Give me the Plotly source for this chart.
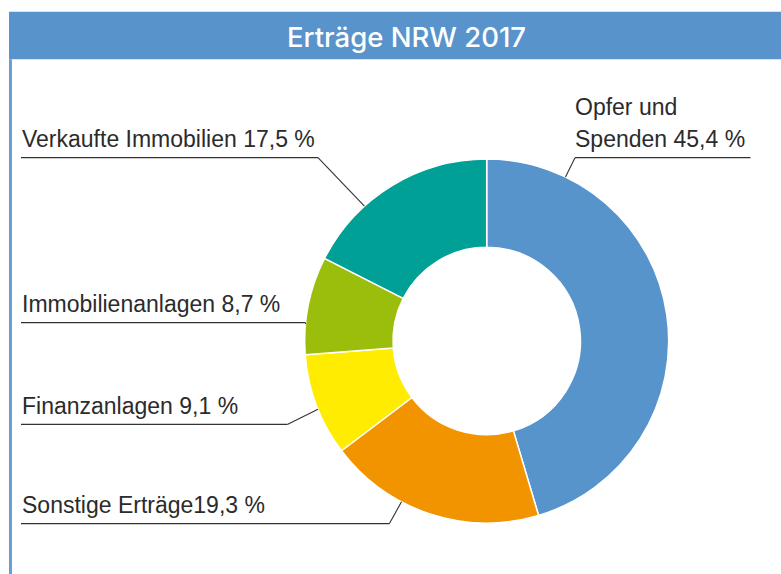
import math
import plotly.graph_objects as go

# ---------------- data ----------------
categories = ["Opfer und<br>Spenden", "Sonstige Erträge", "Finanzanlagen",
              "Immobilienanlagen", "Verkaufte Immobilien"]
values = [45.4, 19.3, 9.1, 8.7, 17.5]
label_sep = [" ", "", " ", " ", " "]          # separator between name and value as printed
title_text = "Erträge NRW 2017"

# ---------------- style / layout ----------------
colors = ["#5794CC", "#F29400", "#FFEC00", "#9BBE0D", "#00A096"]
W, H = 781, 574
cx, cy, R = 486.7, 341.0, 182.0      # donut centre / radius in px
hole = 0.515

# label layout (px)
label_x = [574, 21, 21, 21, 21]
label_baseline = [148.3, 514.3, 415.0, 313.3, 148.3]
line_gap = 32.3
under_far_x = [750.5, 21, 21, 21, 21]
elbow_x = [575, 389.3, 287.3, None, 318]
anchor_frac = [0.157, 0.64, 0.46, 0.31, 0.33]
FS = 23
text_color = "#2b2b2b"
line_color = "#333333"


def px(x):
    return x / W


def py(y):
    return 1 - y / H


fig = go.Figure()
fig.add_trace(go.Pie(
    labels=[c.replace("<br>", " ") for c in categories],
    values=values,
    sort=False,
    direction="clockwise",
    rotation=0,
    hole=hole,
    textinfo="none",
    hoverinfo="label+percent",
    marker=dict(colors=colors, line=dict(color="white", width=1.5)),
    domain=dict(x=[px(cx - R), px(cx + R)], y=[py(cy + R), py(cy - R)]),
    showlegend=False,
))

shapes = []
annotations = []

# title bar and left frame line
shapes.append(dict(type="rect", xref="paper", yref="paper",
                   x0=px(9), x1=1.0, y0=py(59.3), y1=py(11.7),
                   fillcolor="#5893CB", line=dict(width=0), layer="below"))
shapes.append(dict(type="rect", xref="paper", yref="paper",
                   x0=px(9), x1=px(12), y0=0, y1=py(59.3),
                   fillcolor="#6A9FD5", line=dict(width=0), layer="below"))
annotations.append(dict(text=title_text, xref="paper", yref="paper",
                        x=px(406), y=py(37.5), xanchor="center", yanchor="middle",
                        showarrow=False,
                        font=dict(family="Inter", size=27.5, color="white", weight=500)))

total = sum(values)
start = 0.0
for i, (name, v) in enumerate(zip(categories, values)):
    deg = v / total * 360.0
    a = math.radians(start + anchor_frac[i] * deg)
    ax_ = cx + R * math.sin(a)
    ay_ = cy - R * math.cos(a)
    start += deg

    val = f"{v:.1f}".replace(".", ",")
    text = f"{name}{label_sep[i]}{val} %"
    lines = text.split("<br>")
    base = label_baseline[i]
    for j, ln in enumerate(lines):
        b = base - (len(lines) - 1 - j) * line_gap
        annotations.append(dict(text=ln, xref="paper", yref="paper",
                                x=px(label_x[i]), y=py(b + 0.212 * FS),
                                xanchor="left", yanchor="bottom", borderpad=0,
                                showarrow=False, align="left",
                                font=dict(family="Liberation Sans", size=FS,
                                          color=text_color)))
    uy = base + 9.4
    ex = elbow_x[i] if elbow_x[i] is not None else ax_
    shapes.append(dict(type="line", xref="paper", yref="paper",
                       x0=px(under_far_x[i]), x1=px(ex), y0=py(uy), y1=py(uy),
                       line=dict(color=line_color, width=1.3)))
    shapes.append(dict(type="line", xref="paper", yref="paper",
                       x0=px(ex), x1=px(ax_), y0=py(uy), y1=py(ay_),
                       line=dict(color=line_color, width=1.1)))

fig.update_layout(
    width=W, height=H,
    margin=dict(l=0, r=0, t=0, b=0),
    paper_bgcolor="white",
    plot_bgcolor="white",
    shapes=shapes,
    annotations=annotations,
)

fig.write_html("out.html", config={"displayModeBar": False},
               post_script="document.body.style.margin='0';")
